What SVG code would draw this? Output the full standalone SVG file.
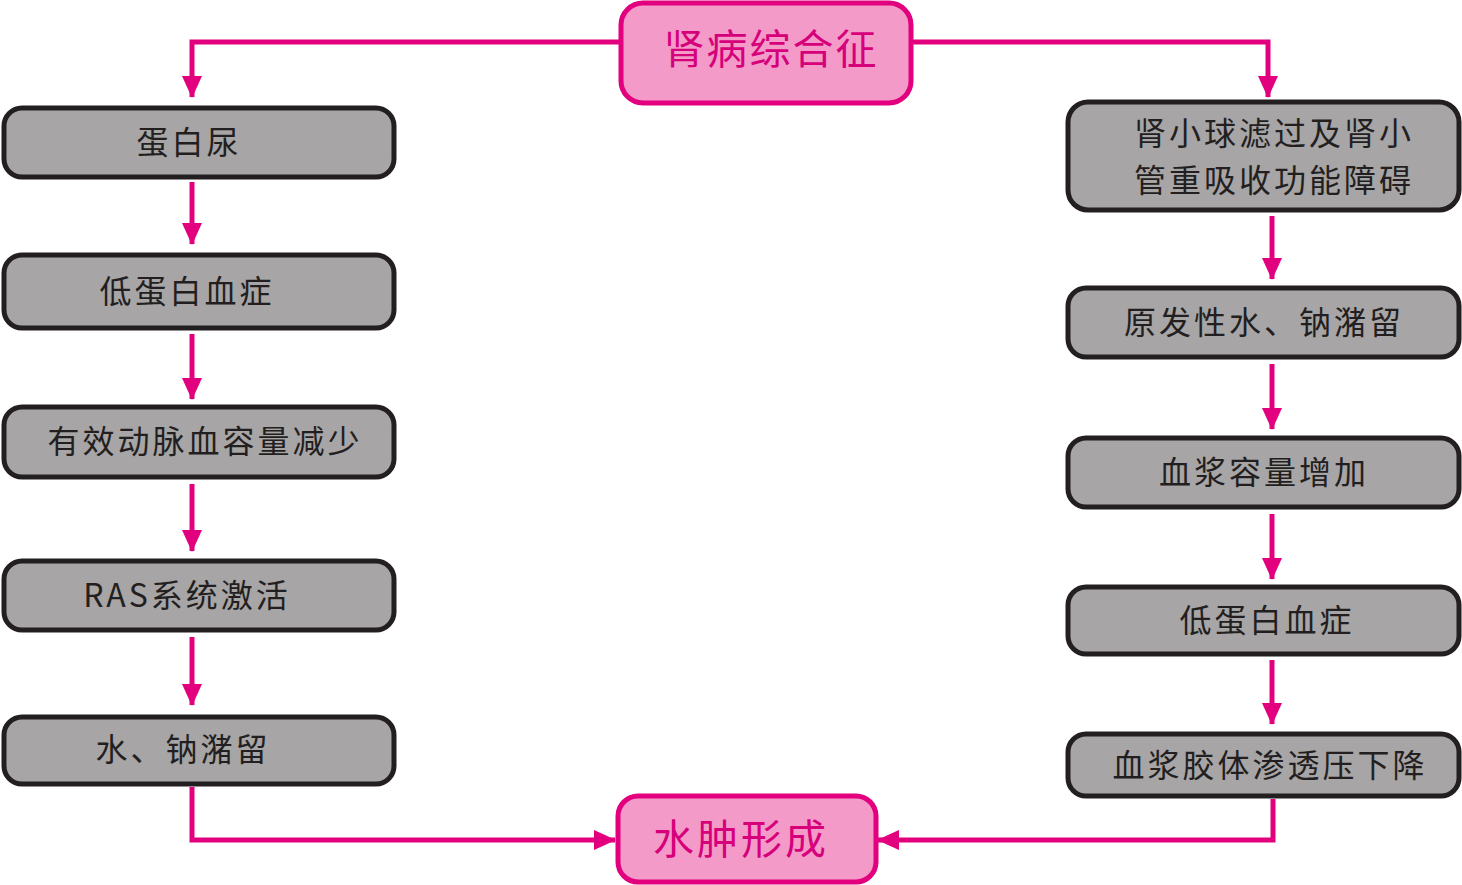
<svg xmlns="http://www.w3.org/2000/svg" width="1462" height="885" viewBox="0 0 1462 885">
<style>
.g{fill:#a7a5a6;stroke:#231f20;stroke-width:5}
.p{fill:#f39ac8;stroke:#e2007f;stroke-width:5}
.t{font-family:"Noto Sans CJK SC","Liberation Sans",sans-serif;font-size:32px;fill:#231f20;letter-spacing:3px;text-anchor:middle;dominant-baseline:central}
.pt{font-family:"Noto Sans CJK SC","Liberation Sans",sans-serif;font-size:41px;fill:#d6007b;letter-spacing:2px;text-anchor:middle;dominant-baseline:central}
.c{fill:none;stroke:#e2007f;stroke-width:5}
</style>
<defs>
<marker id="ah" markerWidth="4.4" markerHeight="4" refX="4.2" refY="2" orient="auto" markerUnits="strokeWidth">
<path d="M0,0 L4.4,2 L0,4 Z" fill="#e2007f"/>
</marker>
</defs>
<rect width="1462" height="885" fill="#fff"/>
<g id="connectors">
<path class="c" d="M620,42 H192 V97" marker-end="url(#ah)"/>
<path class="c" d="M912,42 H1268 V97" marker-end="url(#ah)"/>
<path class="c" d="M192,182 V244" marker-end="url(#ah)"/>
<path class="c" d="M192,334 V399" marker-end="url(#ah)"/>
<path class="c" d="M192,484 V551" marker-end="url(#ah)"/>
<path class="c" d="M192,637 V705" marker-end="url(#ah)"/>
<path class="c" d="M192,787 V840 H615" marker-end="url(#ah)"/>
<path class="c" d="M1272,216 V279" marker-end="url(#ah)"/>
<path class="c" d="M1272,364 V429" marker-end="url(#ah)"/>
<path class="c" d="M1272,514 V579" marker-end="url(#ah)"/>
<path class="c" d="M1272,660 V724" marker-end="url(#ah)"/>
<path class="c" d="M1273,799 V840 H878" marker-end="url(#ah)"/>
</g>
<g id="n-top"><rect class="p" x="621" y="3" width="290" height="100" rx="22"/><text class="pt" x="771" y="46">肾病综合征</text></g>
<g id="n-bottom"><rect class="p" x="618" y="796" width="258" height="86" rx="20"/><text class="pt" x="741" y="836" style="letter-spacing:3px">水肿形成</text></g>
<g id="l1"><rect class="g" x="4" y="108" width="390" height="69" rx="18"/><text class="t" x="189" y="140">蛋白尿</text></g>
<g id="l2"><rect class="g" x="4" y="255" width="390" height="73" rx="18"/><text class="t" x="187" y="289">低蛋白血症</text></g>
<g id="l3"><rect class="g" x="4" y="407" width="390" height="70" rx="18"/><text class="t" x="205" y="439">有效动脉血容量减少</text></g>
<g id="l4"><rect class="g" x="4" y="561" width="390" height="69" rx="18"/><text class="t" x="187" y="593">RAS系统激活</text></g>
<g id="l5"><rect class="g" x="4" y="717" width="390" height="67" rx="18"/><text class="t" x="183" y="747">水、钠潴留</text></g>
<g id="r1"><rect class="g" x="1068" y="102" width="391" height="108" rx="20"/><text class="t" x="1274" y="131">肾小球滤过及肾小</text><text class="t" x="1274" y="178">管重吸收功能障碍</text></g>
<g id="r2"><rect class="g" x="1068" y="288" width="391" height="69" rx="18"/><text class="t" x="1264" y="320">原发性水、钠潴留</text></g>
<g id="r3"><rect class="g" x="1068" y="438" width="391" height="69" rx="18"/><text class="t" x="1264" y="470">血浆容量增加</text></g>
<g id="r4"><rect class="g" x="1068" y="587" width="391" height="67" rx="18"/><text class="t" x="1267" y="618">低蛋白血症</text></g>
<g id="r5"><rect class="g" x="1068" y="734" width="391" height="62" rx="18"/><text class="t" x="1270" y="763">血浆胶体渗透压下降</text></g>
</svg>
